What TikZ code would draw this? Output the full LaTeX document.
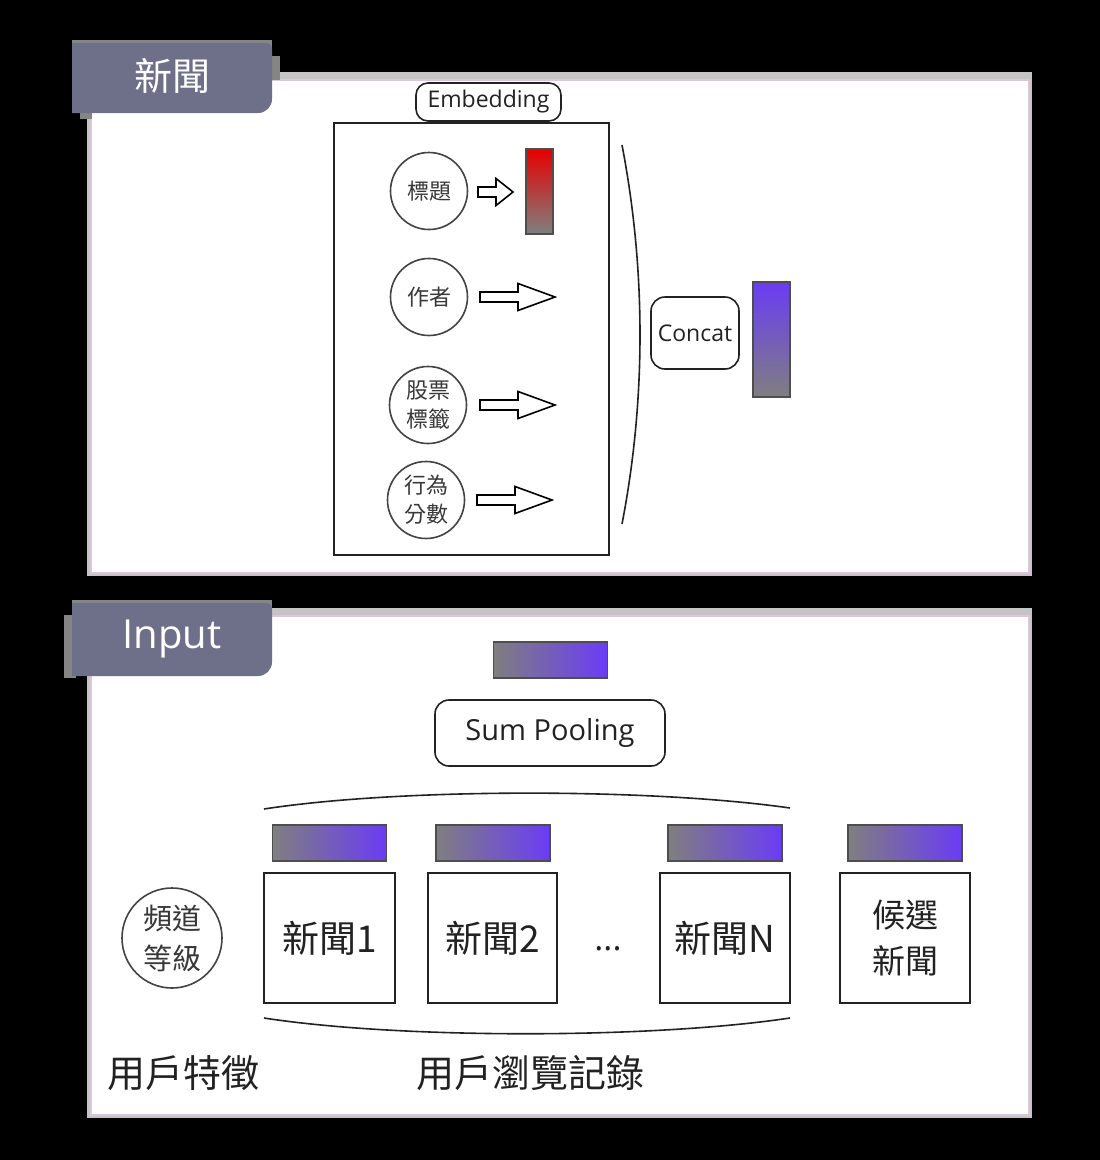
\documentclass[tikz,border=0pt]{standalone}
\usepackage{fontspec}
\setmainfont{Open Sans}
\newfontfamily\cjk{Noto Sans CJK TC}
\definecolor{tabc}{HTML}{6E7089}
\definecolor{tabsh}{HTML}{858585}
\definecolor{shad}{HTML}{C4C4C4}
\definecolor{pinkb}{HTML}{DCC6DC}
\definecolor{gray0}{HTML}{7F7F7F}
\definecolor{purp}{HTML}{6A3CF5}
\definecolor{red0}{HTML}{E60000}
\definecolor{ink}{HTML}{222222}
\tikzset{
  pics/barrow/.style 2 args={code={
    \draw[line width=1.6pt, fill=white, line join=miter]
      (0,-5) -- ({#1-#2},-5) -- ({#1-#2},-13.5) -- (#1,0) -- ({#1-#2},13.5) -- ({#1-#2},5) -- (0,5) -- cycle;
  }},
  tabtext/.style={text=white},
  rbox/.style={draw=ink, line width=1.6pt, rounded corners=12pt, fill=white, inner sep=0pt, text=ink},
  circ/.style={circle, draw=ink!85, line width=1.6pt, inner sep=0pt, align=center, text=ink!90},
  sq/.style={draw=ink, line width=1.6pt, inner sep=0pt, align=center, text=ink},
  vbar/.style={draw=ink!80, line width=1.6pt, top color=#1, bottom color=gray0, inner sep=0pt},
  hbar/.style={draw=ink!80, line width=1.6pt, left color=gray0, right color=purp, inner sep=0pt, minimum width=114pt, minimum height=36pt},
  curve/.style={line width=1.6pt, draw=ink}
}
\begin{document}
\begin{tikzpicture}[x=1pt,y=-1pt]
\path[fill=black, use as bounding box] (0,0) rectangle (1100,1160);

% ---------- panel 1
\fill[shad] (87,72) rectangle (1032,576);
\draw[pinkb, line width=2.5pt, fill=white] (91,80) rectangle (1029,573);
\fill[tabsh] (72,40) rectangle (272,70);
\fill[tabsh] (262,56) rectangle (280,80);
\fill[tabsh] (80,100) rectangle (92,119);
\fill[tabc] (72,113) -- (72,43) [rounded corners=6pt] -- (272,43) [rounded corners=14pt] -- (272,113) [sharp corners] -- cycle;
\node[tabtext, font=\cjk\fontsize{38}{40}\selectfont] (t1) at (172,76) {新聞};

\node[rbox, minimum width=145pt, minimum height=38pt, font=\fontsize{23}{26}\selectfont] (emb) at (488.5,102) {Embedding};
\node[draw=ink, line width=1.6pt, minimum width=275pt, minimum height=432pt, inner sep=0pt] (embbox) at (471.5,339) {};

\node[circ, minimum size=77pt, font=\cjk\fontsize{22}{29}\selectfont] (c1) at (429,191) {標題};
\node[circ, minimum size=77pt, font=\cjk\fontsize{22}{29}\selectfont] (c2) at (429,297) {作者};
\node[circ, minimum size=77pt, font=\cjk\fontsize{22}{29}\selectfont] (c3) at (428,405) {股票\\標籤};
\node[circ, minimum size=77pt, font=\cjk\fontsize{22}{29}\selectfont] (c4) at (426,500) {行為\\分數};

\pic at (478,192) {barrow={35}{17}};
\pic at (480,297) {barrow={75}{37}};
\pic at (480,405) {barrow={75}{37}};
\pic at (477,500) {barrow={75}{37}};

\node[vbar=red0, minimum width=27pt, minimum height=85pt] (rbar) at (539.5,191.5) {};

\draw[curve] (622,145) .. controls (646,270) and (646,400) .. (622,524);

\node[rbox, minimum width=88pt, minimum height=72pt, rounded corners=14pt, font=\fontsize{23}{26}\selectfont] (concat) at (695,333) {Concat};
\node[vbar=purp, minimum width=37pt, minimum height=115pt] (pbar) at (771.5,339.5) {};

% ---------- panel 2
\fill[shad] (87,608) rectangle (1032,1118);
\draw[pinkb, line width=2.5pt, fill=white] (91,616) rectangle (1029,1115);
\fill[tabsh] (72,600) rectangle (272,630);
\fill[tabsh] (64,615) rectangle (76,678);
\fill[tabc] (72,676) -- (72,603) [rounded corners=6pt] -- (272,603) [rounded corners=14pt] -- (272,676) [sharp corners] -- cycle;
\node[tabtext, font=\fontsize{40}{42}\selectfont] (t2) at (172,639) {Input};

\node[hbar] (top) at (550.5,660) {};
\node[rbox, minimum width=230pt, minimum height=66pt, rounded corners=14pt, font=\fontsize{29}{32}\selectfont] (sum) at (550,733) {Sum Pooling};

\draw[curve] (264,809) .. controls (400,788) and (650,788) .. (790,808);

\node[hbar] (b1) at (329.5,843) {};
\node[hbar] (b2) at (493,843) {};
\node[hbar] (b3) at (725,843) {};
\node[hbar] (b4) at (905,843) {};

\node[sq, minimum width=131pt, minimum height=130pt, font=\cjk\fontsize{37}{40}\selectfont] (n1) at (329.5,938) {新聞1};
\node[sq, minimum width=129pt, minimum height=130pt, font=\cjk\fontsize{37}{40}\selectfont] (n2) at (492.5,938) {新聞2};
\node[text=ink, anchor=base, font=\fontsize{34}{36}\selectfont] (dots) at (608,950) {...};
\node[sq, minimum width=130pt, minimum height=130pt, font=\cjk\fontsize{37}{40}\selectfont] (nN) at (725,938) {新聞N};
\node[sq, minimum width=130pt, minimum height=130pt, font=\cjk\fontsize{33}{46}\selectfont] (cand) at (905,938) {候選\\新聞};

\node[circ, minimum size=100pt, font=\cjk\fontsize{29}{40}\selectfont] (lvl) at (172,938) {頻道\\等級};

\draw[curve] (264,1018) .. controls (400,1039) and (650,1039) .. (790,1018);

\node[text=ink, font=\cjk\fontsize{38}{40}\selectfont] (uf) at (183,1073) {用戶特徵};
\node[text=ink, font=\cjk\fontsize{38}{40}\selectfont] (ub) at (530,1073) {用戶瀏覽記錄};
\end{tikzpicture}
\end{document}
